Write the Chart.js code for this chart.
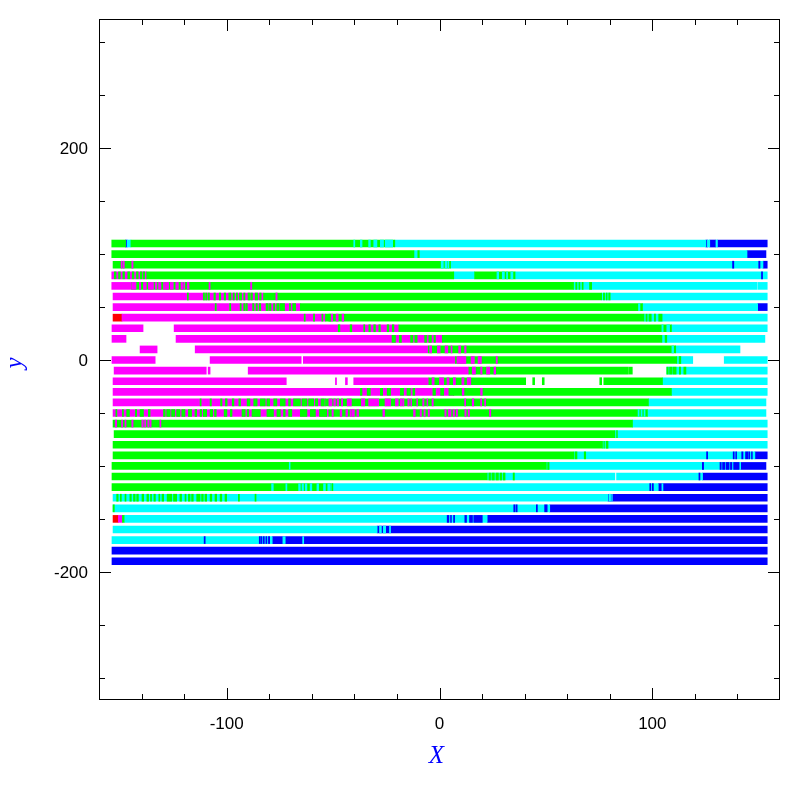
<!DOCTYPE html>
<html>
<head>
<meta charset="utf-8">
<title>strip chart</title>
<script src="https://cdn.jsdelivr.net/npm/chart.js@4.4.1/dist/chart.umd.min.js"></script>
<style>
  html, body { margin: 0; padding: 0; background: #fff; overflow: hidden; }
  #chart { display: block; }
</style>
</head>
<body>
<canvas id="chart" width="797" height="797"></canvas>
<script>
// axis ticks
const xMajor = [-100, 0, 100];
const yMajor = [-200, 0, 200];

// each entry: [row y, x start, x end]
const greenBars = [
  [110, -154, -147.5], [110, -145, -21],
  [100, -154, -12],
  [90, -153.4, 5.2],
  [80, -137.6, 6.7], [80, 16.5, 35.5],
  [70, -144.6, 63],
  [60, -82.7, 76.2],
  [50, -65.4, 95.4],
  [40, -53.6, 96.1],
  [30, -19.1, 109],
  [20, 1.3, 104.5],
  [10, -5.3, 111],
  [0, 7.5, 111.5],
  [-10, 13.8, 88.8], [-10, 89.2, 90.6],
  [-20, -5, 40.5], [-20, 43.8, 44.7], [-20, 48.3, 49.2], [-20, 75.3, 76.2], [-20, 77.2, 104.8],
  [-30, 6.7, 109],
  [-40, -53.6, 98.2],
  [-50, -52, 97.7],
  [-60, -153.4, 90.7],
  [-70, -152.9, 82.4],
  [-80, -153.4, 76.6],
  [-90, -153.4, 63.2],
  [-100, -153.9, 50.2],
  [-110, -153.9, 22.4],
  [-120, -153.9, -51],
  [-150, -149, -148.2]
];

const magentaBars = [
  [80, -154, -137.6],
  [70, -154, -144.6],
  [60, -153.4, -82.7],
  [50, -153.4, -65.4],
  [40, -149.2, -53.6],
  [30, -153.9, -139.3], [30, -124.7, -19.1],
  [20, -153.9, -147.3], [20, -123.8, 1.3],
  [10, -140.7, -132.7], [10, -114.8, -5.3],
  [0, -153.9, -133.6], [0, -107.8, -65], [0, -64, 7.5],
  [-10, -152.9, -109.6], [-10, -108.7, -107.8], [-10, -89.9, 13.8],
  [-20, -153.4, -72], [-20, -48.9, -48.4], [-20, -44.2, -43.3], [-20, -40.3, -5],
  [-30, -153.4, 6.7],
  [-40, -153.4, -53.6],
  [-50, -153.4, -52],
  [-150, -150.9, -149]
];

const cyanBars = [
  [110, -146.8, -145], [110, -21, 125.2], [110, 125.9, 127], [110, 129.9, 130.6],
  [100, -12, 144.5],
  [90, 5.2, 152],
  [80, 6.7, 16.5], [80, 35.5, 154],
  [70, 63, 149.2], [70, 149.6, 154],
  [60, 76.2, 154],
  [50, 95.4, 149.5],
  [40, 96.1, 154],
  [30, 109, 154],
  [20, 104.5, 152.9],
  [10, 111, 141.2],
  [0, 111.5, 119], [0, 133.8, 154],
  [-10, 106.8, 154],
  [-20, 104.8, 154],
  [-30, 109, 154],
  [-40, 98.2, 153.4],
  [-50, 97.7, 153.4],
  [-60, 90.7, 154],
  [-70, 82.4, 154],
  [-80, 76.6, 154],
  [-90, 63.2, 148.2],
  [-100, 50.2, 141.5],
  [-110, 22.4, 82.4], [-110, 83.2, 123.6],
  [-120, -51, 102.8],
  [-130, -153.4, 79.2],
  [-140, -153.4, 51.8],
  [-150, -148.2, 22.4],
  [-160, -153.4, -29.3],
  [-170, -153.9, -78.6]
];

const blueBars = [
  [110, -147.5, -146.8], [110, 125.2, 125.9], [110, 127, 129.9], [110, 130.6, 154],
  [100, 144.5, 153.4],
  [90, 152, 154],
  [50, 149.5, 154],
  [-90, 148.2, 154],
  [-100, 141.5, 153.4],
  [-110, 123.6, 154],
  [-120, 102.8, 154],
  [-130, 79.2, 154],
  [-140, 51.8, 154],
  [-150, 22.4, 154],
  [-160, -29.3, 154],
  [-170, -78.6, 154],
  [-180, -153.9, 154],
  [-190, -153.9, 154]
];

const redBars = [
  [40, -153.4, -149.2],
  [-150, -153.4, -150.9]
];

// thin runs laid over the long ones
const greenStripes = [
  [100, -10.2, -9.5],
  [80, -152.8, -152], [80, -150.8, -150], [80, -148.8, -148], [80, -146.5, -145.6], [80, -144.4, -143.6],
  [80, -142.4, -141.6], [80, -140.6, -139.8], [80, -139.2, -138.5],
  [70, 64, 64.6], [70, 65.5, 66], [70, 67, 67.5], [70, 70.5, 71.5],
  [60, -118.5, -118], [60, -111, -110.4], [60, -109.9, -109.3], [60, -108.7, -108.1], [60, -106, -105.3],
  [60, -103.5, -102.8], [60, -101.2, -100.5], [60, -99, -98], [60, -97, -96.4], [60, -95.5, -94.9],
  [60, -94, -93], [60, -92, -91.4], [60, -90, -89], [60, -88.5, -87.9], [60, -86.6, -85.5], [60, -84.5, -83.8],
  [60, 77, 77.6], [60, 78.3, 78.8], [60, 79.5, 80.2],
  [50, -105.4, -104.9], [50, -98.6, -98.1], [50, -93.7, -93.2], [50, -92, -91.3], [50, -90.8, -90.3],
  [50, -87.8, -87.2], [50, -86.2, -85.6], [50, -84.7, -84], [50, -81.5, -80.5], [50, -79.9, -79.2],
  [50, -78, -77.4], [50, -76.5, -75.5], [50, -75, -72.8], [50, -70.5, -70], [50, -69, -67.6],
  [40, -63.6, -63.1], [40, -59.2, -58.7], [40, -55.3, -54.8], [40, -52, -51.2],
  [40, 97, 97.6], [40, 98.4, 99.5], [40, 101, 101.5], [40, 103, 104.6],
  [30, -47.6, -46.8], [30, -42, -41.2], [30, -35.6, -35.1], [30, -33.2, -32.5], [30, -30.9, -30.1],
  [30, -28.5, -27.8], [30, -24.6, -23.8], [30, -22.2, -21.4],
  [20, -22.3, -20.7], [20, -18.9, -17.9], [20, -13.6, -12.5], [20, -11.6, -10.5], [20, -7, -6.1],
  [20, -5, -3.8], [20, -2.6, -1.9], [20, 106, 106.8],
  [0, 112.6, 113.4],
  [-10, 106.8, 107.5], [-10, 108.1, 109.1], [-10, 109.6, 111.2], [-10, 112.7, 113.3], [-10, 114.8, 115.8],
  [-30, -37.2, -36.4], [-30, -34, -32.5], [-30, -27.8, -26.7], [-30, -24.6, -23], [-30, -18.4, -16.9],
  [-30, -15.3, -13.7], [-30, -12.5, -11.6], [-30, -3.1, -1.9], [-30, 0.5, 2], [-30, 4.4, 6.7],
  [-40, -112.5, -112], [-40, -107.8, -107.2], [-40, -102.9, -102.2], [-40, -100.6, -99.8], [-40, -97.4, -96.6],
  [-40, -94.3, -93.5], [-40, -90.4, -89.1], [-40, -87.3, -85.7], [-40, -84.2, -81.9], [-40, -81.1, -79.8],
  [-40, -77.9, -76.4], [-40, -74.8, -72.5], [-40, -70.9, -70.1], [-40, -68.6, -65.4], [-40, -64.6, -62.3],
  [-40, -61.5, -59.1], [-40, -58.3, -57.2], [-40, -55.7, -54.1],
  [-50, -152.1, -151.6], [-50, -149, -148.5], [-50, -147, -145.7], [-50, -142.9, -142.3], [-50, -140.7, -139.1],
  [-50, -136.8, -136], [-50, -129.7, -128.9], [-50, -128.2, -126.6], [-50, -125.9, -124.4], [-50, -123.5, -122],
  [-50, -121.1, -119.6], [-50, -118, -116.5], [-50, -114.9, -114.1], [-50, -112.5, -111.8], [-50, -111, -109.4],
  [-50, -107.8, -106.6], [-50, -105.7, -104.9], [-50, -101.2, -99.9], [-50, -98.3, -97.5], [-50, -92.8, -91.3],
  [-50, -90.4, -89.6], [-50, -88.1, -84.2], [-50, -81.1, -78], [-50, -76.4, -74.8], [-50, -73.3, -72.5],
  [-50, -70.9, -69.4], [-50, -65.4, -62.3], [-50, -60.7, -58.3], [-50, -56.4, -53],
  [-70, 83.2, 83.6],
  [-80, 77.2, 77.5], [-80, 78.3, 79.2],
  [-90, 63.8, 64.6], [-90, 68, 68.7],
  [-100, 50.8, 51.5],
  [-110, 23.2, 24], [-110, 24.6, 25.8], [-110, 26.5, 27.7], [-110, 28.4, 29.2], [-110, 29.9, 30.8], [-110, 34.6, 35.2],
  [-120, -50.5, -50.1],
  [-130, -151.7, -151], [-130, -150, -149.5], [-130, -147.8, -147.3], [-130, -145.5, -144.8], [-130, -143.8, -143],
  [-130, -142.3, -141.5], [-130, -139.8, -139], [-130, -137.5, -136.7], [-130, -135.8, -135.3], [-130, -134.2, -133.5],
  [-130, -131.9, -131.4], [-130, -130.4, -129.6], [-130, -128, -125.8], [-130, -125, -123.5], [-130, -122, -121.2],
  [-130, -119.6, -119.1], [-130, -118, -117.2], [-130, -116.5, -115.7], [-130, -114.1, -112.5], [-130, -111.8, -111],
  [-130, -110.2, -109.4], [-130, -107.8, -107], [-130, -105.5, -104.7], [-130, -103.1, -102.3], [-130, -100.8, -100],
  [-130, -94.5, -94], [-130, -86.7, -86.2],
  [-140, -153.4, -152.8]
];

const magentaStripes = [
  [90, -149.6, -149.1], [90, -148.6, -148.1], [90, -144.6, -144],
  [70, -144.6, -142.6], [70, -141, -140.4], [70, -139.1, -137.8], [70, -136.8, -134.4], [70, -133.6, -132.8],
  [70, -132, -130.9], [70, -129.7, -129.2], [70, -128.8, -127.3], [70, -126.5, -125.1], [70, -123.9, -122.7],
  [70, -121.5, -120.7], [70, -120.2, -119.7], [70, -118.5, -117.7], [70, -108.3, -107.8], [70, -88.8, -88.2],
  [60, -76.9, -76.3],
  [40, -51.2, -50.2], [40, -48.6, -47.6], [40, -45.8, -45],
  [10, -4.6, -3.7], [10, -1, 0.3], [10, 2.6, 3.9], [10, 5.4, 5.9], [10, 9, 9.9], [10, 11.8, 12.5],
  [0, 8.2, 12.4], [0, 14.8, 16.4], [0, 18.1, 19.7], [0, 26.6, 27.2],
  [-10, 15.4, 16.9], [-10, 19.3, 20], [-10, 22.1, 23.6], [-10, 25.6, 26.4],
  [-20, -3.5, -2.5], [-20, 0, 2], [-20, 3.5, 4.5], [-20, 6.5, 7.5], [-20, 10.5, 11.5], [-20, 13, 14.7],
  [-30, 10.7, 11.5], [-30, 19.3, 20.1],
  [-40, -52, -50.5], [-40, -49.7, -48.9], [-40, -48.1, -47.4], [-40, -46.1, -45.5], [-40, -43.4, -41.4],
  [-40, -36.7, -35.1], [-40, -33.3, -28.6], [-40, -25.6, -23], [-40, -20.7, -19.4], [-40, -18.4, -17.6],
  [-40, -17.3, -16.7], [-40, -14.9, -14.2], [-40, -13.5, -13.1], [-40, -10.7, -10.3], [-40, -7.9, -7.3],
  [-40, -5.9, -5.5], [-40, -3.5, -2.9], [-40, 11.8, 12.3], [-40, 15.4, 16.1], [-40, 19.3, 19.8], [-40, 21.2, 21.7],
  [-50, -50.5, -49.9], [-50, -46.7, -45.9], [-50, -44, -43.2], [-50, -42, -41.4], [-50, -41, -40],
  [-50, -38.8, -38], [-50, -26.6, -25.8], [-50, -12.2, -11.4], [-50, -9.1, -8.5], [-50, -7.3, -6.7],
  [-50, -5.3, -4.7], [-50, 2.5, 3.1], [-50, 4.2, 5.4], [-50, 6.4, 7], [-50, 7.9, 8.5], [-50, 11.9, 12.5],
  [-50, 13.5, 14.1], [-50, 23.5, 24.1],
  [-60, -152.4, -151.7], [-60, -149.4, -148.9], [-60, -147.8, -147.3], [-60, -144.6, -144], [-60, -139.9, -139.2],
  [-60, -138.6, -138], [-60, -137.1, -136.5], [-60, -136, -135.5], [-60, -131.4, -130.9]
];

const cyanStripes = [
  [110, -40.3, -39.8], [110, -37.2, -36.4], [110, -33.3, -32.5], [110, -30.9, -29.4], [110, -27.8, -26.3], [110, -25.5, -22],
  [90, 0.8, 1.8], [90, 2.6, 3.4], [90, 3.9, 4.4],
  [80, 27, 27.8], [80, 29.5, 30.5], [80, 31.5, 32], [80, 33.5, 34.5],
  [50, 93.5, 94.2],
  [30, 104.5, 105.1], [30, 106.8, 108.1],
  [10, 109.2, 110],
  [-50, 93.3, 93.8], [-50, 94.7, 95.2], [-50, 96.1, 96.6],
  [-100, -70.6, -70.2],
  [-120, -78.9, -78.1], [-120, -72.2, -71.7], [-120, -66.2, -65.4], [-120, -64.6, -63.9], [-120, -63.1, -62.3],
  [-120, -60.8, -60], [-120, -57.6, -56.8], [-120, -54.5, -53.6], [-120, -52.5, -51.3], [-120, 104.5, 105],
  [-130, 79.7, 80.4], [-130, 80.9, 81.2],
  [-160, -28.2, -27.3], [-160, -26.4, -25.3], [-160, -23.5, -23],
  [-170, -73.6, -72.5], [-170, -64.3, -63.8]
];

const blueStripes = [
  [90, 137.7, 138.3], [90, 150, 150.6],
  [80, 151.3, 151.8],
  [-90, 125.5, 126], [-90, 138, 138.5], [-90, 139.2, 139.6], [-90, 142, 142.6], [-90, 143.8, 144.9],
  [-90, 145.3, 145.8], [-90, 146.6, 147],
  [-100, 123.5, 124.1], [-100, 131.8, 132.4], [-100, 133, 134], [-100, 134.6, 136.1], [-100, 136.7, 137.4], [-100, 138.2, 140.8],
  [-110, 121.9, 122.4],
  [-120, 98.8, 99.3], [-120, 100, 100.5],
  [-140, 34.9, 35.4], [-140, 35.9, 36.5], [-140, 45.5, 46], [-140, 49.4, 50.6],
  [-150, 3.6, 4.4], [-150, 5.2, 5.6], [-150, 6.6, 7.1], [-150, 11.9, 12.7], [-150, 14.1, 15.5], [-150, 16.1, 20.1],
  [-170, -110.6, -110.1], [-170, -84.7, -84.2], [-170, -83.9, -83.4], [-170, -82.8, -82.3], [-170, -81.6, -81.1], [-170, -80.4, -79.8]
];

function toPoints(list) {
  return list.map(([y, a, b]) => ({ x: [a, b], y: y }));
}

function layer(list, color, order) {
  return {
    data: toPoints(list),
    backgroundColor: color,
    borderWidth: 0,
    barThickness: 7,
    grouped: false,
    order: order
  };
}

// frame, inward ticks, labels
const framePlugin = {
  id: 'frame',
  afterDraw(chart) {
    const { ctx, chartArea: a, scales: { x, y } } = chart;
    ctx.save();
    ctx.strokeStyle = '#000';
    ctx.lineWidth = 1;
    ctx.strokeRect(a.left + 0.5, a.top + 0.5, a.right - a.left - 1, a.bottom - a.top - 1);

    ctx.beginPath();
    for (let v = -140; v <= 140; v += 20) {
      const px = Math.round(x.getPixelForValue(v)) + 0.5;
      const len = xMajor.includes(v) ? 12 : 6;
      ctx.moveTo(px, a.bottom); ctx.lineTo(px, a.bottom - len);
      ctx.moveTo(px, a.top); ctx.lineTo(px, a.top + len);
    }
    for (let v = -300; v <= 300; v += 50) {
      const py = Math.round(y.getPixelForValue(v)) + 0.5;
      const len = yMajor.includes(v) ? 12 : 6;
      ctx.moveTo(a.left, py); ctx.lineTo(a.left + len, py);
      ctx.moveTo(a.right, py); ctx.lineTo(a.right - len, py);
    }
    ctx.stroke();

    ctx.fillStyle = '#000';
    ctx.font = '17px "Liberation Sans", Arial, sans-serif';
    ctx.textAlign = 'center';
    ctx.textBaseline = 'alphabetic';
    xMajor.forEach(v => ctx.fillText(String(v), x.getPixelForValue(v), a.bottom + 29));
    ctx.textAlign = 'right';
    ctx.textBaseline = 'middle';
    yMajor.forEach(v => ctx.fillText(String(v), a.left - 11, y.getPixelForValue(v) + 1));

    ctx.fillStyle = '#0000ff';
    ctx.font = 'italic 25px "Liberation Serif", "DejaVu Serif", serif';
    ctx.textAlign = 'center';
    ctx.textBaseline = 'alphabetic';
    ctx.fillText('X', (a.left + a.right) / 2 - 3, a.bottom + 63);
    ctx.translate(22, y.getPixelForValue(0) + 3);
    ctx.rotate(-Math.PI / 2);
    ctx.fillText('y', 0, 0);
    ctx.restore();
  }
};

document.addEventListener('DOMContentLoaded', function () {
  const ctx = document.getElementById('chart').getContext('2d');

  new Chart(ctx, {
    type: 'bar',
    data: {
      datasets: [
        layer(greenBars, '#00ff00', 1),
        layer(magentaBars, '#ff00ff', 1),
        layer(cyanBars, '#00ffff', 1),
        layer(blueBars, '#0000ff', 1),
        layer(redBars, '#ff0000', 1),
        layer(greenStripes, '#00ff00', 0),
        layer(magentaStripes, '#ff00ff', 0),
        layer(cyanStripes, '#00ffff', 0),
        layer(blueStripes, '#0000ff', 0)
      ]
    },
    options: {
      indexAxis: 'y',
      responsive: false,
      animation: false,
      devicePixelRatio: 1,
      layout: { padding: { left: 99, right: 17, top: 19, bottom: 97 } },
      plugins: { legend: { display: false }, tooltip: { enabled: false } },
      scales: {
        x: { type: 'linear', min: -160, max: 160, display: false },
        y: { type: 'linear', min: -321, max: 322, offset: false, display: false }
      }
    },
    plugins: [framePlugin]
  });
});
</script>
</body>
</html>
